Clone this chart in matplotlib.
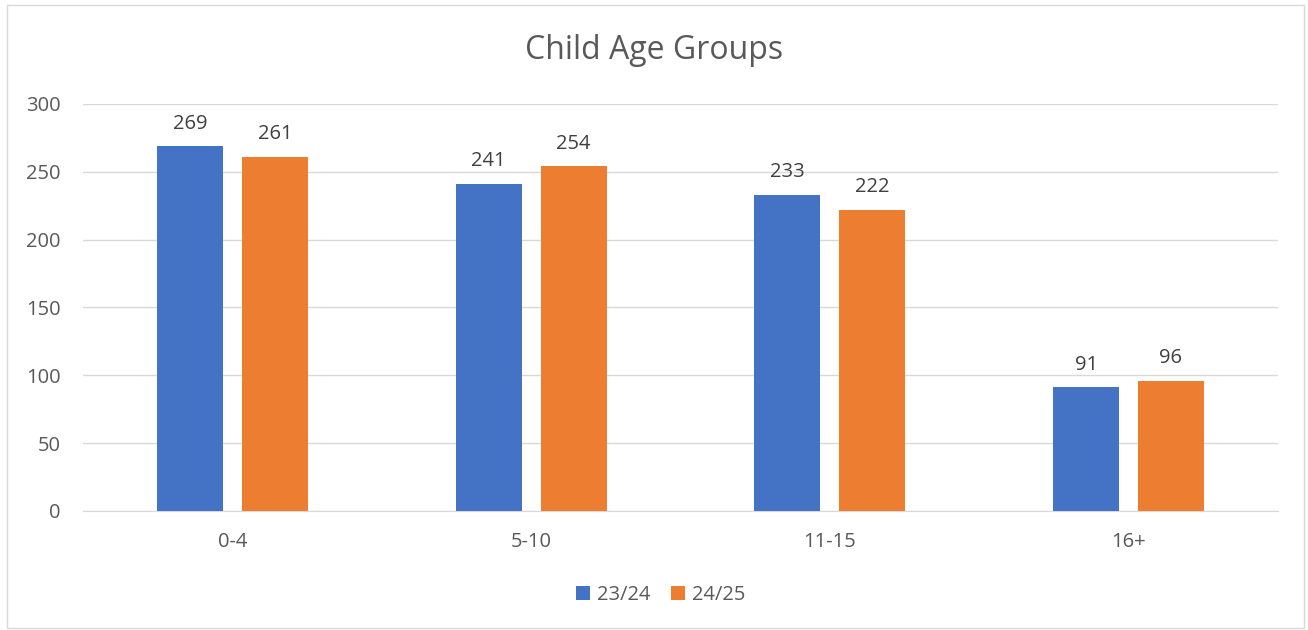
import matplotlib
matplotlib.use("Agg")
import matplotlib.pyplot as plt
from matplotlib.patches import Rectangle
import numpy as np

categories = ["0-4", "5-10", "11-15", "16+"]
series_names = ["23/24", "24/25"]
values_2324 = [269, 241, 233, 91]
values_2425 = [261, 254, 222, 96]
yticks = [0, 50, 100, 150, 200, 250, 300]

plt.rcParams['font.family'] = ['Open Sans', 'DejaVu Sans']

fig = plt.figure(figsize=(13.08, 6.30), dpi=100)
fig.patches.append(Rectangle((0.005, 0.003), 0.992, 0.989, transform=fig.transFigure,
                             fill=False, edgecolor="#D9D9D9", linewidth=1.0))
ax = fig.add_axes([0.0635, 0.189, 0.9135, 0.646])

x = np.arange(len(categories))
w = 0.221
off = 0.142
tc = "#595959"
fs = 14.5
b1 = ax.bar(x - off, values_2324, w, color="#4472C4", label=series_names[0], zorder=3)
b2 = ax.bar(x + off, values_2425, w, color="#ED7D31", label=series_names[1], zorder=3)
for bars in (b1, b2):
    ax.bar_label(bars, padding=9, fontsize=fs, color="#404040")

ax.set_xlim(-0.5, len(categories) - 0.5)
ax.set_ylim(0, 300)
ax.set_yticks(yticks)
ax.set_xticks(x)
ax.set_xticklabels(categories)
ax.tick_params(axis='both', length=0, labelsize=fs, colors=tc)
ax.tick_params(axis='x', pad=15)
ax.tick_params(axis='y', pad=16)
ax.grid(axis='y', color="#D9D9D9", linewidth=1.0, zorder=0)
for s in ["top", "right", "left"]:
    ax.spines[s].set_visible(False)
ax.spines["bottom"].set_color("#D9D9D9")

fig.text(0.5, 0.92, "Child Age Groups", ha="center", va="center", fontsize=23, color=tc)
fig.legend(handles=[b1, b2], labels=series_names, loc="center", bbox_to_anchor=(0.505, 0.055),
           ncol=2, frameon=False, fontsize=fs, labelcolor=tc, handlelength=0.7,
           handleheight=0.7, columnspacing=1.0, handletextpad=0.35)

fig.savefig("out.png", dpi=100)
